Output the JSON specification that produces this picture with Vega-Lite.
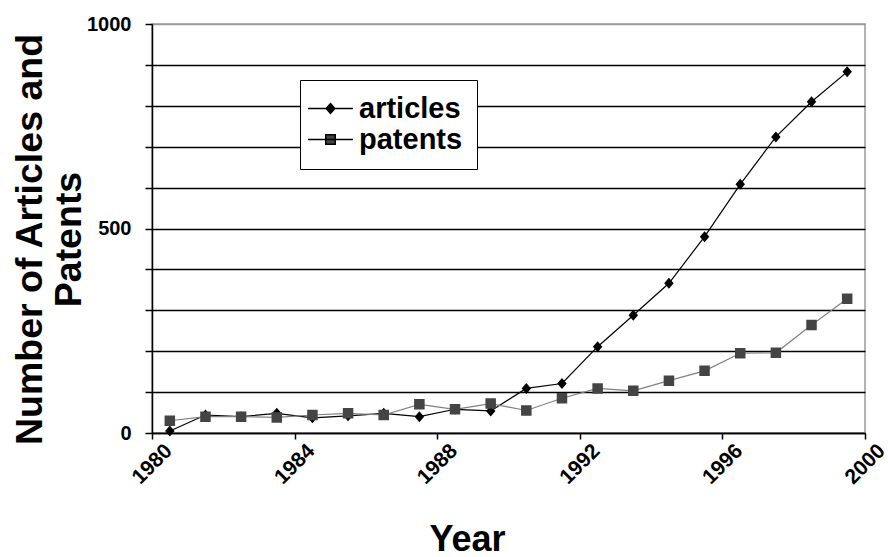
{
  "$schema": "https://vega.github.io/schema/vega-lite/v6.json",
  "width": 713,
  "height": 409,
  "autosize": {"type": "none"},
  "padding": {"left": 152, "top": 24, "right": 23, "bottom": 124},
  "background": "white",
  "config": {
    "font": "Liberation Sans",
    "view": {"stroke": "#9a9a9a", "strokeWidth": 1.5},
    "axis": {"labelFont": "Liberation Sans", "titleFont": "Liberation Sans", "labelFontWeight": "bold", "titleFontWeight": "bold", "labelColor": "black", "titleColor": "black", "domainColor": "black", "tickColor": "black", "domainWidth": 1.5, "tickWidth": 1.5},
    "legend": {"labelFont": "Liberation Sans", "labelFontWeight": "bold", "labelFontSize": 29, "labelColor": "black"}
  },
  "data": {"values": [
    {"year": 1980.5, "series": "articles", "value": 5},
    {"year": 1981.5, "series": "articles", "value": 44},
    {"year": 1982.5, "series": "articles", "value": 40},
    {"year": 1983.5, "series": "articles", "value": 48},
    {"year": 1984.5, "series": "articles", "value": 37},
    {"year": 1985.5, "series": "articles", "value": 42},
    {"year": 1986.5, "series": "articles", "value": 48},
    {"year": 1987.5, "series": "articles", "value": 40},
    {"year": 1988.5, "series": "articles", "value": 58},
    {"year": 1989.5, "series": "articles", "value": 54},
    {"year": 1990.5, "series": "articles", "value": 109},
    {"year": 1991.5, "series": "articles", "value": 121},
    {"year": 1992.5, "series": "articles", "value": 211},
    {"year": 1993.5, "series": "articles", "value": 288},
    {"year": 1994.5, "series": "articles", "value": 366},
    {"year": 1995.5, "series": "articles", "value": 480},
    {"year": 1996.5, "series": "articles", "value": 608},
    {"year": 1997.5, "series": "articles", "value": 724},
    {"year": 1998.5, "series": "articles", "value": 810},
    {"year": 1999.5, "series": "articles", "value": 883},
    {"year": 1980.5, "series": "patents", "value": 30},
    {"year": 1981.5, "series": "patents", "value": 40},
    {"year": 1982.5, "series": "patents", "value": 40},
    {"year": 1983.5, "series": "patents", "value": 38},
    {"year": 1984.5, "series": "patents", "value": 44},
    {"year": 1985.5, "series": "patents", "value": 48},
    {"year": 1986.5, "series": "patents", "value": 44},
    {"year": 1987.5, "series": "patents", "value": 70},
    {"year": 1988.5, "series": "patents", "value": 58},
    {"year": 1989.5, "series": "patents", "value": 72},
    {"year": 1990.5, "series": "patents", "value": 55},
    {"year": 1991.5, "series": "patents", "value": 85},
    {"year": 1992.5, "series": "patents", "value": 109},
    {"year": 1993.5, "series": "patents", "value": 103},
    {"year": 1994.5, "series": "patents", "value": 128},
    {"year": 1995.5, "series": "patents", "value": 152},
    {"year": 1996.5, "series": "patents", "value": 195},
    {"year": 1997.5, "series": "patents", "value": 196},
    {"year": 1998.5, "series": "patents", "value": 264},
    {"year": 1999.5, "series": "patents", "value": 328}
  ]},
  "encoding": {
    "x": {
      "field": "year", "type": "quantitative",
      "scale": {"domain": [1980, 2000], "nice": false, "zero": false},
      "axis": {
        "values": [1980, 1984, 1988, 1992, 1996, 2000],
        "format": "d", "grid": false,
        "labelAngle": -45, "labelAlign": "center", "labelBaseline": "middle",
        "labelFontSize": 21, "labelPadding": 25, "tickSize": 6,
        "title": "Year", "titleFontSize": 36,
        "titleX": 315, "titleY": 117, "titleBaseline": "alphabetic", "titleAlign": "center"
      }
    },
    "y": {
      "field": "value", "type": "quantitative",
      "scale": {"domain": [0, 1000], "nice": false},
      "axis": {
        "values": [0, 100, 200, 300, 400, 500, 600, 700, 800, 900, 1000],
        "format": "d",
        "labelExpr": "datum.value % 500 == 0 ? datum.label : ''",
        "grid": true,
        "gridColor": {"condition": {"test": "datum.value == 1000", "value": "#9a9a9a"}, "value": "black"},
        "gridWidth": 1.5,
        "labelFontSize": 20, "labelPadding": 14, "tickSize": 7,
        "title": ["Number of Articles and", "Patents"], "titleFontSize": 37.5, "titleLineHeight": 39,
        "titleAngle": -90, "titleX": -111, "titleY": 215, "titleBaseline": "alphabetic", "titleAlign": "center"
      }
    }
  },
  "layer": [
    {
      "mark": {"type": "line", "strokeWidth": 1.2},
      "encoding": {
        "detail": {"field": "series", "type": "nominal"},
        "stroke": {"condition": {"test": "datum.series == 'articles'", "value": "black"}, "value": "#808080"}
      }
    },
    {
      "mark": {"type": "point", "filled": true, "opacity": 1, "size": 100},
      "encoding": {
        "color": {
          "field": "series", "type": "nominal",
          "scale": {"domain": ["articles", "patents"], "range": ["black", "#444444"]},
          "legend": {
            "title": null, "orient": "none", "legendX": 148, "legendY": 56,
            "symbolSize": 81, "symbolOffset": 2, "labelOffset": 14, "padding": 14, "rowPadding": 1,
            "strokeColor": "black", "fillColor": "white",
            "symbolStrokeColor": "black", "symbolStrokeWidth": 1.5,
            "encode": {"symbols": {"update": {"stroke": {"signal": "datum.value == 'articles' ? 'black' : '#808080'"}, "strokeWidth": {"value": 1.5}}}}
          }
        },
        "shape": {
          "field": "series", "type": "nominal",
          "scale": {"domain": ["articles", "patents"], "range": ["M-5,0H5M0,-1.1L0.95,0L0,1.1L-0.95,0Z", "M-5,0H5M-1.05,-1.05H1.05V1.05H-1.05Z"]},
          "legend": {
            "title": null, "orient": "none", "legendX": 148, "legendY": 56,
            "symbolSize": 81, "symbolOffset": 2, "labelOffset": 14, "padding": 14, "rowPadding": 1,
            "strokeColor": "black", "fillColor": "white",
            "symbolStrokeColor": "black", "symbolStrokeWidth": 1.5,
            "encode": {"symbols": {"update": {"stroke": {"signal": "datum.value == 'articles' ? 'black' : '#808080'"}, "strokeWidth": {"value": 1.5}}}}
          }
        }
      }
    }
  ]
}
